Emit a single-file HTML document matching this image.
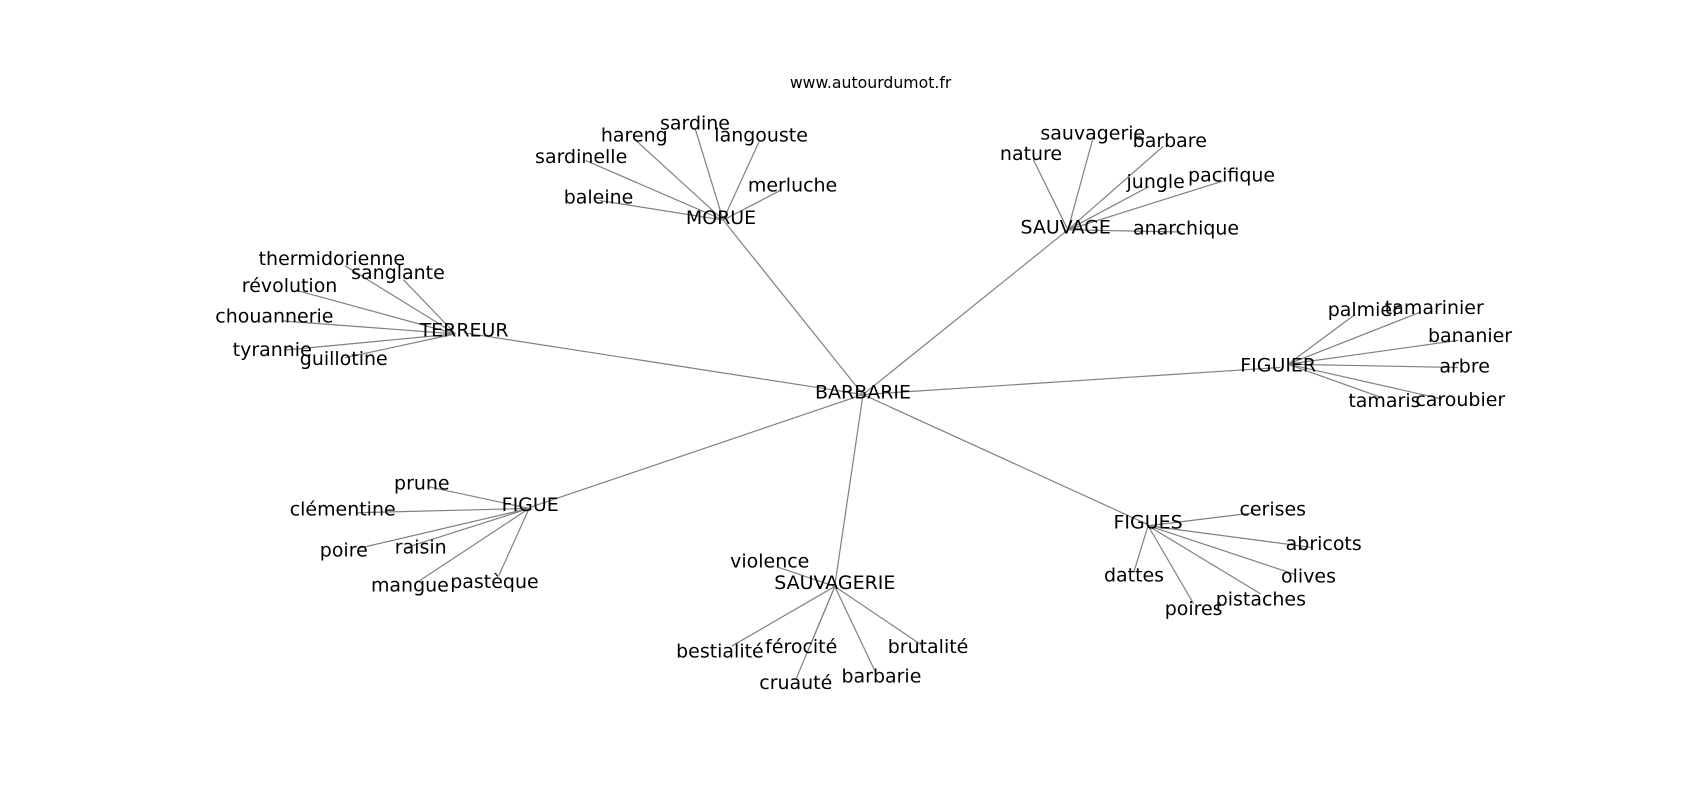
<!DOCTYPE html>
<html><head><meta charset="utf-8"><style>
html,body{margin:0;padding:0;background:#fff;}
svg{display:block;}
text{font-family:"DejaVu Sans","Liberation Sans",sans-serif;font-size:17.5px;fill:#000;text-anchor:middle;dominant-baseline:central;}
line{stroke:#808080;stroke-width:1.1;}
</style></head><body>
<svg width="1700" height="800" viewBox="0 0 1568 738" xmlns="http://www.w3.org/2000/svg">
<g>
<!-- hub edges -->
<line x1="796" y1="364" x2="667" y2="203"/>
<line x1="796" y1="364" x2="985" y2="212"/>
<line x1="796" y1="364" x2="428" y2="307"/>
<line x1="796" y1="364" x2="1181" y2="339"/>
<line x1="796" y1="364" x2="489" y2="468"/>
<line x1="796" y1="364" x2="770" y2="540"/>
<line x1="796" y1="364" x2="1059" y2="484"/>
<!-- MORUE -->
<line x1="667" y1="203" x2="641" y2="118"/>
<line x1="667" y1="203" x2="587" y2="130"/>
<line x1="667" y1="203" x2="700" y2="131"/>
<line x1="667" y1="203" x2="540" y2="148"/>
<line x1="667" y1="203" x2="721" y2="175"/>
<line x1="667" y1="203" x2="553" y2="185"/>
<!-- SAUVAGE -->
<line x1="985" y1="212" x2="1008" y2="128"/>
<line x1="985" y1="212" x2="1073" y2="135"/>
<line x1="985" y1="212" x2="953" y2="147"/>
<line x1="985" y1="212" x2="1060" y2="172"/>
<line x1="985" y1="212" x2="1128" y2="167"/>
<line x1="985" y1="212" x2="1090" y2="214"/>
<!-- TERREUR -->
<line x1="420" y1="308" x2="318" y2="245"/>
<line x1="420" y1="308" x2="372" y2="258"/>
<line x1="420" y1="308" x2="274" y2="268"/>
<line x1="420" y1="308" x2="260" y2="296"/>
<line x1="420" y1="308" x2="262" y2="323"/>
<line x1="420" y1="308" x2="318" y2="330"/>
<!-- FIGUIER -->
<line x1="1188" y1="336" x2="1250" y2="290"/>
<line x1="1188" y1="336" x2="1310" y2="288"/>
<line x1="1188" y1="336" x2="1345" y2="314"/>
<line x1="1188" y1="336" x2="1345" y2="339"/>
<line x1="1188" y1="336" x2="1275" y2="367"/>
<line x1="1188" y1="336" x2="1330" y2="368"/>
<!-- FIGUE -->
<line x1="488" y1="469" x2="395" y2="449"/>
<line x1="488" y1="469" x2="330" y2="473"/>
<line x1="488" y1="469" x2="330" y2="506"/>
<line x1="488" y1="469" x2="375" y2="505"/>
<line x1="488" y1="469" x2="382" y2="539"/>
<line x1="488" y1="469" x2="460" y2="531"/>
<!-- SAUVAGERIE -->
<line x1="770" y1="541" x2="717" y2="523"/>
<line x1="770" y1="541" x2="675" y2="596"/>
<line x1="770" y1="541" x2="745" y2="601"/>
<line x1="770" y1="541" x2="734" y2="627"/>
<line x1="770" y1="541" x2="807" y2="619"/>
<line x1="770" y1="541" x2="850" y2="595"/>
<!-- FIGUES -->
<line x1="1059" y1="485" x2="1157" y2="473"/>
<line x1="1059" y1="485" x2="1210" y2="505"/>
<line x1="1059" y1="485" x2="1195" y2="530"/>
<line x1="1059" y1="485" x2="1046" y2="527"/>
<line x1="1059" y1="485" x2="1101" y2="557"/>
<line x1="1059" y1="485" x2="1163" y2="548"/>
</g>
<text x="803" y="76" style="font-size:14.5px">www.autourdumot.fr</text>

<text x="796" y="362">BARBARIE</text>
<text x="665" y="201">MORUE</text>
<text x="983" y="210">SAUVAGE</text>
<text x="428" y="305">TERREUR</text>
<text x="1179" y="337">FIGUIER</text>
<text x="489" y="466">FIGUE</text>
<text x="770" y="538">SAUVAGERIE</text>
<text x="1059" y="482">FIGUES</text>

<text x="641" y="114">sardine</text>
<text x="585" y="125">hareng</text>
<text x="702" y="125">langouste</text>
<text x="536" y="145">sardinelle</text>
<text x="731" y="171">merluche</text>
<text x="552" y="182">baleine</text>

<text x="1008" y="123">sauvagerie</text>
<text x="1079" y="130">barbare</text>
<text x="951" y="142">nature</text>
<text x="1066" y="168">jungle</text>
<text x="1136" y="162">pacifique</text>
<text x="1094" y="211">anarchique</text>

<text x="306" y="239">thermidorienne</text>
<text x="367" y="252">sanglante</text>
<text x="267" y="264">révolution</text>
<text x="253" y="292">chouannerie</text>
<text x="251" y="323">tyrannie</text>
<text x="317" y="331">guillotine</text>

<text x="1258" y="286">palmier</text>
<text x="1323" y="284">tamarinier</text>
<text x="1356" y="310">bananier</text>
<text x="1351" y="338">arbre</text>
<text x="1277" y="370">tamaris</text>
<text x="1347" y="369">caroubier</text>

<text x="389" y="446">prune</text>
<text x="316" y="470">clémentine</text>
<text x="317" y="508">poire</text>
<text x="388" y="505">raisin</text>
<text x="378" y="540">mangue</text>
<text x="456" y="537">pastèque</text>

<text x="710" y="518">violence</text>
<text x="664" y="601">bestialité</text>
<text x="739" y="597">férocité</text>
<text x="734" y="630">cruauté</text>
<text x="813" y="624">barbarie</text>
<text x="856" y="597">brutalité</text>

<text x="1174" y="470">cerises</text>
<text x="1221" y="502">abricots</text>
<text x="1207" y="532">olives</text>
<text x="1046" y="531">dattes</text>
<text x="1101" y="562">poires</text>
<text x="1163" y="553">pistaches</text>
</svg>
</body></html>
